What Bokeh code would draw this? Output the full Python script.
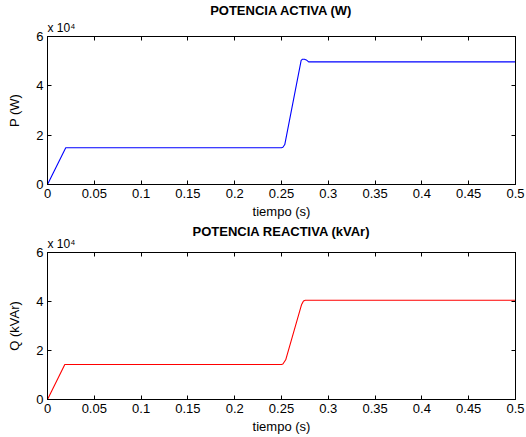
from bokeh.plotting import figure
from bokeh.layouts import column
from bokeh.models import LinearAxis, Title, FixedTicker, CustomJSTickFormatter, Range1d
from bokeh.embed import file_html
from bokeh.resources import INLINE

# --- data ---
t_p = [0, 0.0195, 0.25, 0.2515, 0.2535, 0.271, 0.2725, 0.2745, 0.2765, 0.279, 0.5]
p_w = [0, 14900, 14900, 15100, 16200, 50300, 50800, 50800, 50500, 49700, 49700]

t_q = [0, 0.0185, 0.25, 0.2515, 0.2545, 0.2715, 0.2735, 0.2755, 0.5]
q_var = [0, 14300, 14300, 14500, 16200, 38800, 40200, 40500, 40500]

x_ticks = [0, 0.05, 0.1, 0.15, 0.2, 0.25, 0.3, 0.35, 0.4, 0.45, 0.5]
y_ticks = [0, 20000, 40000, 60000]

FONT = "Liberation Sans"


def make_panel(title, ylabel, t, y, color, height, top, bottom, title_standoff):
    p = figure(width=526, height=height, output_backend="svg", toolbar_location=None,
               x_range=Range1d(0, 0.5), y_range=Range1d(0, 60000),
               min_border_left=47, min_border_right=11,
               min_border_top=top, min_border_bottom=bottom)
    p.title.text = title
    p.title.align = "center"
    p.title.text_font = FONT
    p.title.text_font_size = "13px"
    p.title.text_font_style = "bold"
    p.title.text_color = "black"
    p.title.offset = 0
    p.title.standoff = title_standoff

    p.xgrid.visible = False
    p.ygrid.visible = False
    p.outline_line_color = "black"
    p.outline_line_alpha = 1
    p.background_fill_color = "white"
    p.border_fill_color = "white"

    xa = p.xaxis[0]
    ya = p.yaxis[0]
    xa.ticker = FixedTicker(ticks=x_ticks)
    ya.ticker = FixedTicker(ticks=y_ticks)
    ya.formatter = CustomJSTickFormatter(code="return String(Math.round(tick/1e4));")
    xa.axis_label = "tiempo (s)"
    ya.axis_label = ylabel
    for ax in (xa, ya):
        ax.major_tick_in = 4
        ax.major_tick_out = 0
        ax.minor_tick_in = 0
        ax.minor_tick_out = 0
        ax.axis_line_color = "black"
        ax.major_tick_line_color = "black"
        ax.major_label_text_font = FONT
        ax.major_label_text_font_size = "13px"
        ax.major_label_text_color = "black"
        ax.axis_label_text_font = FONT
        ax.axis_label_text_font_size = "13px"
        ax.axis_label_text_font_style = "normal"
        ax.axis_label_text_color = "black"
        ax.major_label_standoff = 4
    xa.axis_label_standoff = 3
    ya.axis_label_standoff = 11

    blank = "return '';"
    top_ax = LinearAxis(ticker=FixedTicker(ticks=x_ticks), formatter=CustomJSTickFormatter(code=blank))
    right_ax = LinearAxis(ticker=FixedTicker(ticks=y_ticks), formatter=CustomJSTickFormatter(code=blank))
    for ax in (top_ax, right_ax):
        ax.major_tick_in = 4
        ax.major_tick_out = 0
        ax.minor_tick_in = 0
        ax.minor_tick_out = 0
        ax.major_label_standoff = 0
        ax.axis_line_color = "black"
        ax.major_tick_line_color = "black"
    p.add_layout(top_ax, "above")
    p.add_layout(right_ax, "right")

    expo = Title(text="x 10\u2074", align="left", offset=0, standoff=3,
                 text_font=FONT, text_font_size="12px", text_font_style="normal",
                 text_color="black")
    p.add_layout(expo, "above")

    p.line(t, y, line_color=color, line_width=1.1)
    return p


p1 = make_panel("POTENCIA ACTIVA (W)", "P (W)", t_p, p_w, "blue", 221, 36, 37, 0)
p2 = make_panel("POTENCIA REACTIVA (kVAr)", "Q (kVAr)", t_q, q_var, "red", 216, 31, 38, -11)

layout = column(p1, p2, spacing=0)
open("out.html", "w").write(file_html(layout, INLINE))
